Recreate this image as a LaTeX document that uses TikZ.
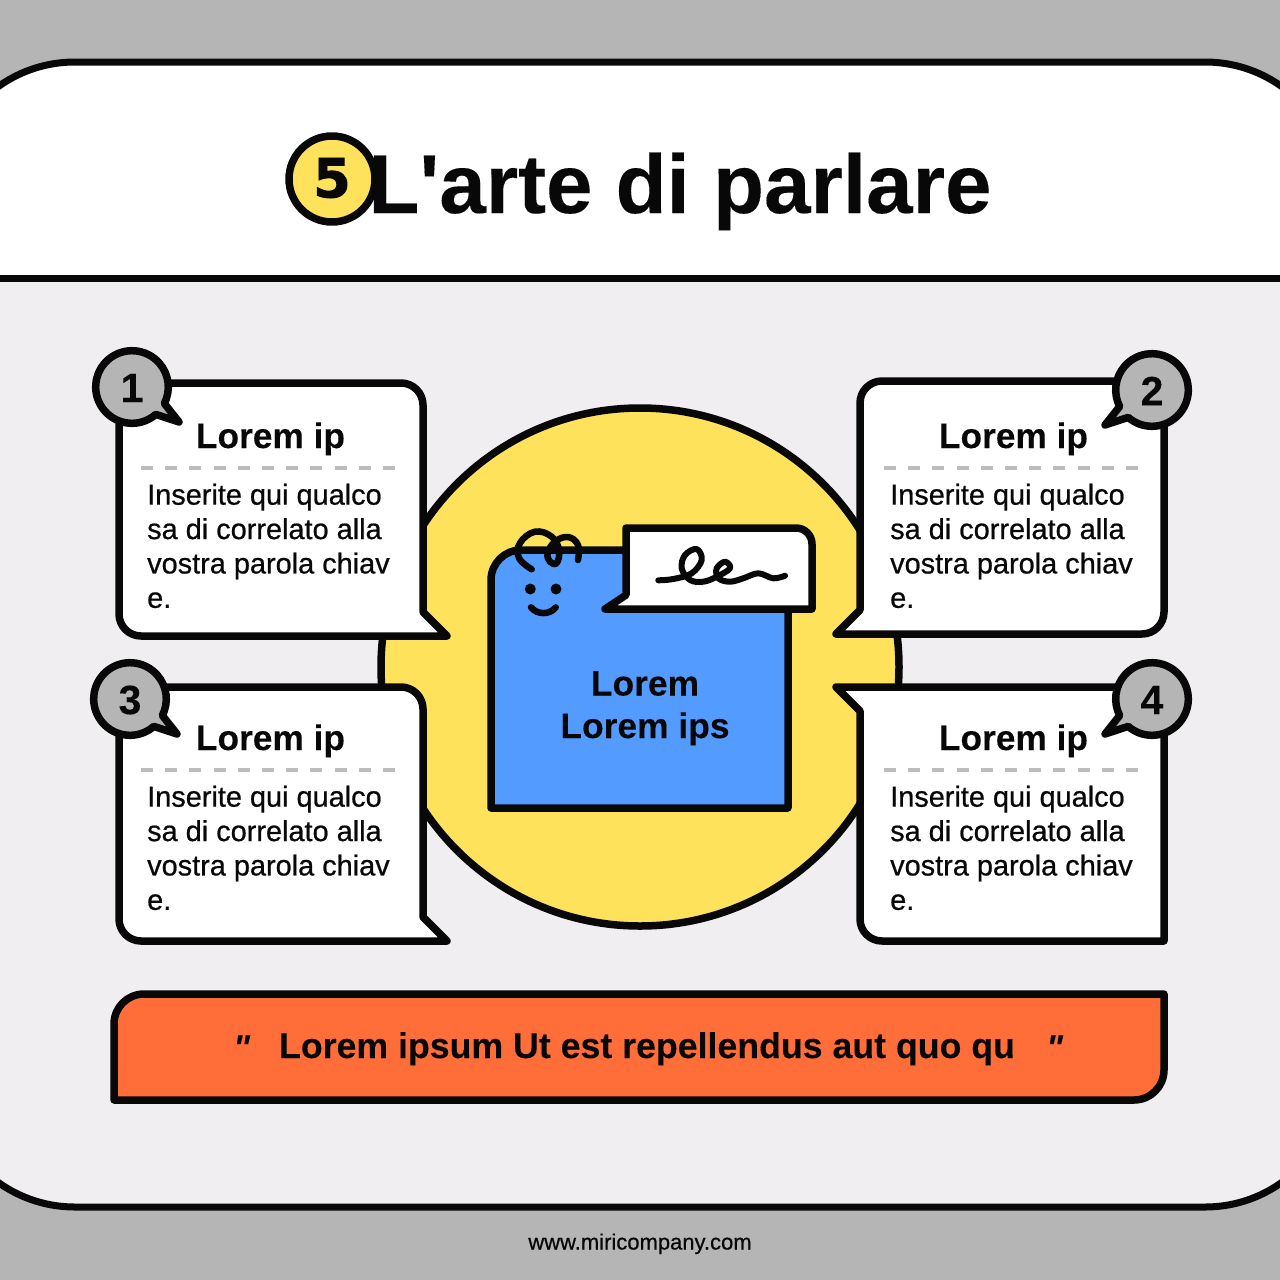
\documentclass[tikz,border=0pt]{standalone}
\usepackage{fontspec}
\setmainfont{Liberation Sans}
\newfontfamily\headfont[FakeBold=0.15]{Liberation Sans Bold}
\newfontfamily\headitfont{Liberation Sans Bold Italic}
\newfontfamily\bodyfont[FakeBold=0.65]{Liberation Sans}
\newfontfamily\digitfont[FakeBold=1.6]{DejaVu Sans Bold}
\definecolor{ink}{HTML}{080808}
\definecolor{greybg}{HTML}{B6B5B6}
\definecolor{panelgrey}{HTML}{F0EEF0}
\definecolor{sunny}{HTML}{FFE25C}
\definecolor{skyblue}{HTML}{549BFF}
\definecolor{tomato}{HTML}{FF6D39}
\definecolor{dashgrey}{HTML}{BDBDBD}
\tikzset{
  outline/.style={draw=ink,line width=7.5pt,line join=round,line cap=round},
  cardbox/.style={outline,fill=white},
  cardtitle/.style={anchor=base,inner sep=0pt,text=ink,font=\fontsize{35.3}{36}\headfont},
  boldline/.style={anchor=base,inner sep=0pt,text=ink,font=\fontsize{35.4}{36}\headfont},
  cardbody/.style={anchor=north west,inner sep=0pt,align=left,text=ink,font=\fontsize{28.9}{34.4}\bodyfont},
  sep/.style={draw=dashgrey,line width=3.5pt,dash pattern=on 12pt off 12.2pt},
  digit/.style={inner sep=0pt,text=ink,font=\fontsize{41}{41}\headfont},
}
\newcommand{\mybadge}[5]{%
  \begin{scope}[shift={(#1,#2)},xscale=#3]
    \draw[outline,fill=greybg] (27:36.3) -- (47,35) -- (49:36.3) arc [start angle=49,end angle=387,radius=36.3pt] -- cycle;
    \node[digit] (#5) at (0,1) {#4};
  \end{scope}}
\newcommand{\mycard}[5]{% x of title centre, body x, sep x0, y offset, name
  \node[cardtitle] (#5t) at (#1,448+#4) {Lorem ip};
  \draw[sep] (#3,468+#4) -- (#3+257,468+#4);
  \node[cardbody] (#5b) at (#2,483.5+#4) {Inserite qui qualco\\sa di correlato alla\\vostra parola chiav\\e.};}
\begin{document}
\begin{tikzpicture}[x=1pt,y=1pt,yscale=-1]
\useasboundingbox (0,0) rectangle (1280,1280);
\fill[greybg] (0,0) rectangle (1280,1280);
% panel
\fill[white,rounded corners=132pt] (-57,62) rectangle (1337,1207);
\begin{scope}
  \clip (0,278) rectangle (1280,1280);
  \fill[panelgrey,rounded corners=132pt] (-57,62) rectangle (1337,1207);
\end{scope}
\draw[draw=ink,line width=7pt,rounded corners=132pt] (-57,62) rectangle (1337,1207);
\draw[draw=ink,line width=7pt] (0,278) -- (1280,278);
% header
\node[outline,circle,fill=sunny,minimum size=86pt,inner sep=0pt] (five) at (332,179) {};
\node[inner sep=0pt,text=ink,font=\fontsize{54}{54}\digitfont] (fivet) at (332,178) {5};
\node[anchor=base,inner sep=0pt,text=ink,font=\fontsize{83.5}{84}\headfont] (title) at (680,213) {L'arte di parlare};
% central circle
\node[outline,circle,fill=sunny,minimum size=518pt,inner sep=0pt] (sun) at (640,667) {};
% cards
\draw[cardbox] (447,636) -- (423,612) [rounded corners=22pt] -- (423,383) -- (119,383) -- (119,636) [sharp corners] -- cycle;
\draw[cardbox] (836,634) -- (860,610) [rounded corners=22pt] -- (860,381) -- (1164,381) -- (1164,634) [sharp corners] -- cycle;
\draw[cardbox] (447,941) -- (423,917) [rounded corners=22pt] -- (423,687) -- (119,687) -- (119,941) [sharp corners] -- cycle;
\draw[cardbox] (836,687) -- (860,711) [rounded corners=22pt] -- (860,941) [sharp corners] -- (1164,941) -- (1164,687) -- cycle;
\mycard{270.5}{147}{141}{0}{ca}
\mycard{1013.5}{890}{884}{0}{cb}
\mycard{270.5}{147}{141}{302}{cc}
\mycard{1013.5}{890}{884}{302}{cd}
\mybadge{132}{387}{1}{1}{ba}
\mybadge{1152}{390}{-1}{2}{bb}
\mybadge{130}{699}{1}{3}{bc}
\mybadge{1152}{699}{-1}{4}{bd}
% blue folder
\draw[outline,fill=skyblue] (491,808) [rounded corners=30pt] -- (491,550) [sharp corners] -- (788,550) -- (788,808) -- cycle;
\draw[outline,line width=6.5pt,fill=none] plot[smooth,tension=0.7] coordinates {(531.7,569.3) (519,558) (520,543) (535,531.7) (551.7,536.7) (559,550) (556.7,563) (550,561.7) (547.7,553) (555,541.7) (568,537) (578,545) (578,560)};
\fill[ink] (530.3,589) circle (5.5pt) (556,589) circle (5.5pt);
\draw[outline,line width=6.5pt] (531,607.3) .. controls (537,615) and (550,615) .. (555.7,607.3);
\draw[cardbox] (605,609) -- (626,595) -- (626,528) [rounded corners=16pt] -- (812,528) [sharp corners] -- (812,609) -- cycle;
\draw[outline,line width=6pt] plot[smooth,tension=0.6] coordinates {(658.3,580.3) (673.3,579) (691.7,573.3) (701.7,560) (696.7,549) (685,555) (681.7,568.3) (690,580) (703.3,581.7) (716.7,576.7) (730,568.3) (725,561.7) (716.7,568.3) (718.3,578.3) (730,581.7) (743.3,578.3) (758.3,573.3) (773.3,578.3) (785,575.7)};
\node[boldline] (fa) at (645,695.5) {Lorem};
\node[boldline] (fb) at (645,738) {Lorem ips};
% quote bar
\draw[outline,fill=tomato] (114,1100) [rounded corners=30pt] -- (114,994) [sharp corners] -- (1164,994) [rounded corners=30pt] -- (1164,1100) [sharp corners] -- cycle;
\node[anchor=base,inner sep=0pt,text=ink,font=\fontsize{35.7}{36}\headfont] (q) at (647,1058) {Lorem ipsum Ut est repellendus aut quo qu};
\node[anchor=base,inner sep=0pt,text=ink,font=\fontsize{36}{36}\headitfont] (ql) at (242,1060) {"};
\node[anchor=base,inner sep=0pt,text=ink,font=\fontsize{36}{36}\headitfont] (qr) at (1055,1060) {"};
\node[anchor=base,inner sep=0pt,text=ink,font=\fontsize{22}{22}\bodyfont] (web) at (640,1249.5) {www.miricompany.com};
\end{tikzpicture}
\end{document}
